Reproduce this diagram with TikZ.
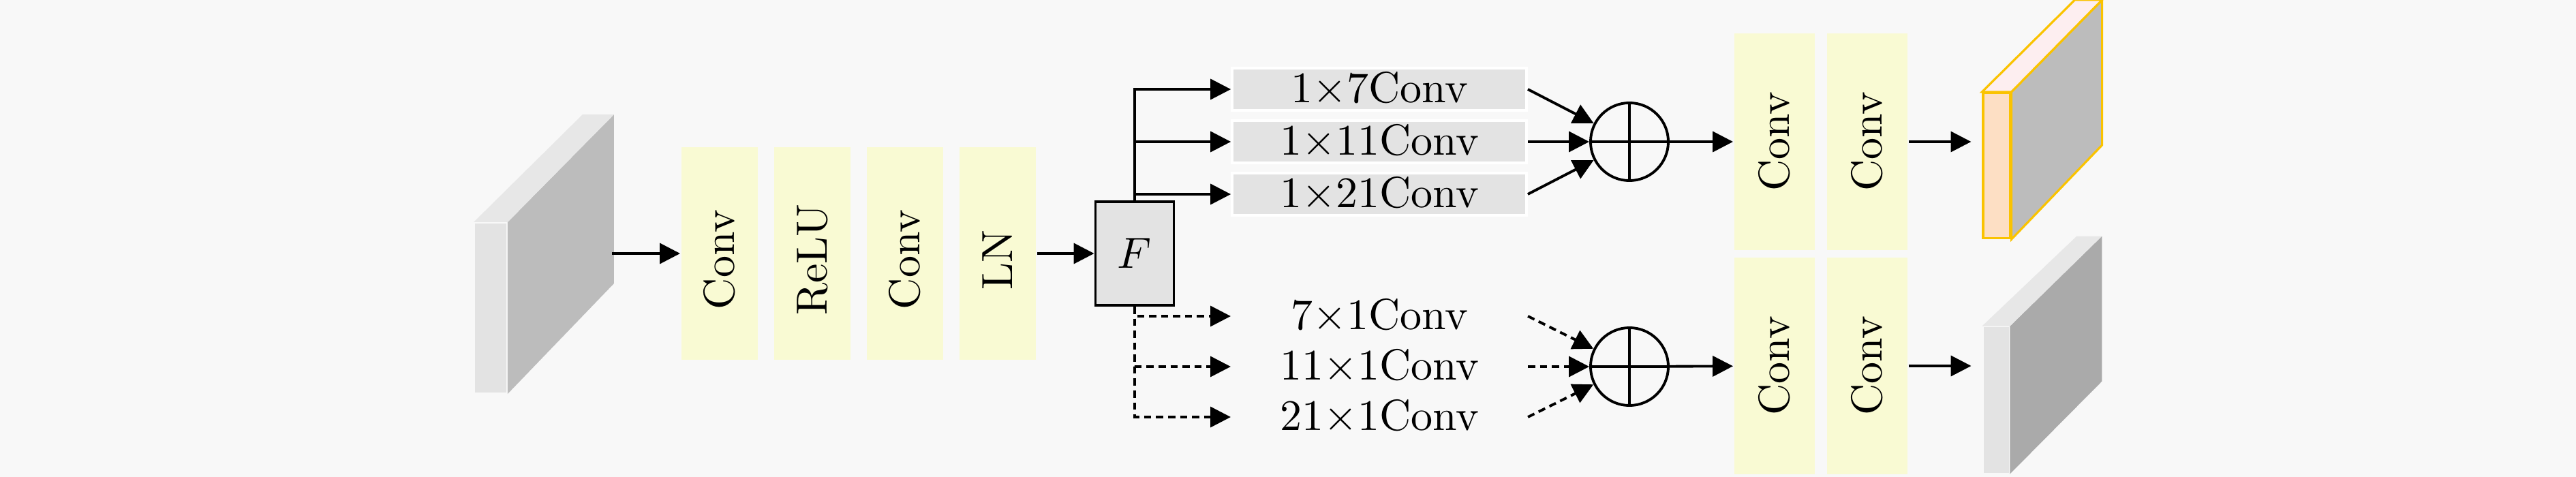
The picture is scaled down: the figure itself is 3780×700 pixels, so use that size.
\documentclass[tikz,border=0pt]{standalone}
\usepackage{tikz}
\usepackage{graphicx}
\usetikzlibrary{positioning,arrows}
\usetikzlibrary{shapes}
\usetikzlibrary{arrows.meta}
\RequirePackage{amsmath}
\RequirePackage{amssymb}
\usepackage{xcolor}
\definecolor{bgcol}{RGB}{248,248,248}
\definecolor{blockyellow}{RGB}{249,250,211}
\definecolor{boxgray}{RGB}{227,227,227}
\definecolor{mapfront}{RGB}{227,227,227}
\definecolor{mapside}{RGB}{188,188,188}
\definecolor{maptop}{RGB}{231,231,231}
\definecolor{mapdark}{RGB}{170,170,170}
\definecolor{outfront}{RGB}{253,223,196}
\definecolor{outtop}{RGB}{253,238,240}
\definecolor{outedge}{RGB}{250,195,0}
\newcommand{\bigtxt}[1]{\scalebox{1.82}{#1}}
\newcommand{\vtxt}[1]{\rotatebox{90}{\bigtxt{#1}}}

\begin{document}
\begin{tikzpicture}[x=0.01cm,y=-0.01cm,line width=1.1pt,>={Triangle[length=8.5pt,width=8.5pt]}]
	\fill[bgcol] (0,0) rectangle (3780,700);
	\useasboundingbox (0,0) rectangle (3780,700);
	% feature maps
	\tikzstyle{every node}=[inner sep=0pt, minimum size=0pt]
	\draw (720,452) node (in) [fill=mapfront, minimum width=0.46cm, minimum height=2.48cm]{};
	\fill[mapside] (in.north east) -- ++(156,-158) -- ++(0,248) -- (in.south east) -- cycle;
	\fill[maptop] (in.north west) -- (in.north east) -- ++(156,-158) -- ++(-46,0) -- cycle;
	\coordinate (inR) at (898,372);
	\draw (2930,243) node (o1) [fill=outfront, draw=outedge, line width=0.9pt, minimum width=0.40cm, minimum height=2.13cm]{};
	\draw[outedge, line width=0.9pt, fill=mapside] (o1.north east) -- ++(133,-135) -- ++(0,213) -- (o1.south east) -- cycle;
	\draw[outedge, line width=0.9pt, fill=outtop] (o1.north west) -- (o1.north east) -- ++(133,-135) -- ++(-40,0) -- cycle;
	\draw (2929,587) node (o2) [fill=mapfront, minimum width=0.37cm, minimum height=2.13cm]{};
	\fill[mapdark] (o2.north east) -- ++(135,-132) -- ++(0,213) -- (o2.south east) -- cycle;
	\fill[maptop] (o2.north west) -- (o2.north east) -- ++(135,-132) -- ++(-37,0) -- cycle;
	% blocks
	\tikzstyle{every node}=[fill=blockyellow, minimum width=1.12cm, minimum height=3.11cm, inner sep=0pt]
	\draw (1056,372) node (c1) {\vtxt{Conv\hspace{0.1cm}}};
	\draw (1192,372) node (c2) {\vtxt{ReLU\hspace{0.1cm}}};
	\draw (1328,372) node (c3) {\vtxt{Conv\hspace{0.1cm}}};
	\draw (1464,372) node (c4) {\vtxt{LN\hspace{0.1cm}}};
	\draw (2604,208) node (c5) [minimum width=1.18cm, minimum height=3.18cm] {\vtxt{Conv}};
	\draw (2740,208) node (c6) [minimum width=1.18cm, minimum height=3.18cm] {\vtxt{Conv}};
	\draw (2604,537) node (c7) [minimum width=1.18cm, minimum height=3.18cm] {\vtxt{Conv}};
	\draw (2740,537) node (c8) [minimum width=1.18cm, minimum height=3.18cm] {\vtxt{Conv}};
	\draw (1665,372) node (F) [fill=boxgray, draw, minimum width=1.15cm, minimum height=1.52cm] {\bigtxt{$F$}};
	\tikzstyle{every node}=[fill=boxgray, draw=white, line width=1pt, minimum width=4.32cm, minimum height=0.62cm, inner sep=0pt]
	\draw (2024,131) node (k1) {\bigtxt{1$\times$7Conv}};
	\draw (2024,208) node (k2) {\bigtxt{1$\times$11Conv}};
	\draw (2024,285) node (k3) {\bigtxt{1$\times$21Conv}};
	\tikzstyle{every node}=[fill=none, minimum width=4.32cm, minimum height=0.62cm, inner sep=0pt]
	\draw (2024,464) node (v1) {\bigtxt{7$\times$1Conv}};
	\draw (2024,538) node (v2) {\bigtxt{11$\times$1Conv}};
	\draw (2024,612) node (v3) {\bigtxt{21$\times$1Conv}};
	\tikzstyle{every node}=[circle, draw, fill=none, minimum size=1.14cm, inner sep=0pt]
	\draw (2391,208) node (s1) {};
	\draw (2391,538) node (s2) {};
	\draw (s1.north) -- (s1.south) (s1.west) -- (s1.east);
	\draw (s2.north) -- (s2.south) (s2.west) -- (s2.east);
	% connectors
	\draw [->] (inR) -- (c1);
	\draw [->] (c4) -- (F);
	\draw [->] (F.north) |- (k1.west);
	\draw [->] (F.north) |- (k2.west);
	\draw [->] (F.north) |- (k3.west);
	\draw [->, densely dashed] (F.south) |- (v1.west);
	\draw [->, densely dashed] (F.south) |- (v2.west);
	\draw [->, densely dashed] (F.south) |- (v3.west);
	\draw [->] (k1.east) -- (s1);
	\draw [->] (k2.east) -- (s1);
	\draw [->] (k3.east) -- (s1);
	\draw [->, densely dashed] (v1.east) -- (s2);
	\draw [->, densely dashed] (v2.east) -- (s2);
	\draw [->, densely dashed] (v3.east) -- (s2);
	\draw [->] (s1) -- (c5);
	\draw [->] (s2) -- (c7);
	\draw [shorten >=0.16cm, ->] (c6.east) -- (c6.east -| o1.west);
	\draw [shorten >=0.16cm, ->] (c8.east) -- (c8.east -| o2.west);
\end{tikzpicture}
\end{document}
